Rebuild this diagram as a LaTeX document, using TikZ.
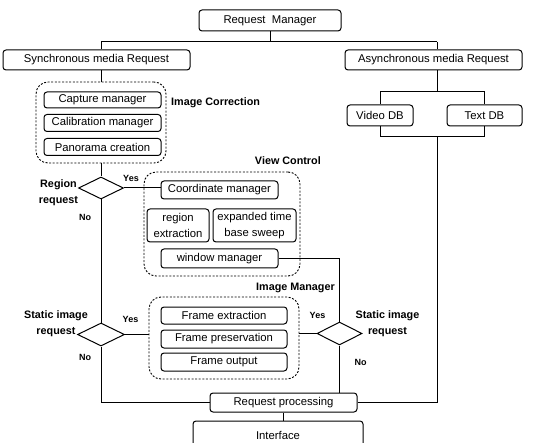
\documentclass[tikz,border=0pt]{standalone}
\usepackage{fontspec}
\setmainfont{Liberation Sans}
\usetikzlibrary{shapes.geometric}
\tikzset{
  box/.style={draw, line width=1pt, rounded corners=3pt, inner sep=0pt, align=center,
    font=\fontsize{11.3}{15.5}\selectfont},
  group/.style={draw, line width=0.9pt, dash pattern=on 2pt off 1.6pt, rounded corners=12pt, inner sep=0pt},
  dec/.style={draw, diamond, line width=1pt, inner sep=0pt},
  lbl/.style={font=\bfseries\fontsize{10.8}{13}\selectfont, inner sep=0pt},
  yn/.style={font=\bfseries\fontsize{9}{11}\selectfont, inner sep=0pt},
  conn/.style={line width=1pt},
}
\begin{document}
\begin{tikzpicture}[x=1pt,y=-1pt]
\useasboundingbox (0,0) rectangle (556,443);
% top
\node[box, minimum width=142, minimum height=21] (rm) at (270,20.5) {Request\ \ Manager};
\node[box, minimum width=187, minimum height=20] (sync) at (96.5,60) {Synchronous media Request};
\node[box, minimum width=177, minimum height=20] (async) at (433.5,60) {Asynchronous media Request};
\node[box, minimum width=66, minimum height=21] (video) at (380,115.5) {Video DB};
\node[box, minimum width=75, minimum height=21] (text) at (484.5,115.5) {Text DB};
\coordinate (barL) at (101,42);
\coordinate (barR) at (437,42);
\coordinate (forkT) at (437,92);
\coordinate (joinB) at (437,137);
% image correction
\node[group, minimum width=130, minimum height=81] (ic) at (101,122.5) {};
\node[box, minimum width=117, minimum height=16] (cap) at (102.5,100) {Capture manager};
\node[box, minimum width=117, minimum height=17] (cal) at (102.5,123) {Calibration manager};
\node[box, minimum width=117, minimum height=17] (pan) at (102.5,147) {Panorama creation};
\node[lbl, anchor=west] (icl) at (171,103) {Image Correction};
% region decision
\node[dec, minimum width=45, minimum height=22] (d1) at (101,188) {};
\node[lbl, align=center, font=\bfseries\fontsize{10.8}{16}\selectfont] (d1l) at (58.5,193) {Region\\request};
\node[yn] (d1y) at (131,178) {Yes};
\node[yn] (d1n) at (85,217) {No};
% view control
\node[group, minimum width=156, minimum height=104] (vc) at (222,224) {};
\node[lbl, anchor=east] (vcl) at (321,161) {View Control};
\node[box, minimum width=117, minimum height=18] (cm) at (219.5,190) {Coordinate manager};
\node[box, minimum width=62, minimum height=33] (re) at (178,225.5) {region\\extraction};
\node[box, minimum width=83, minimum height=33] (ex) at (254.5,225.5) {expanded time\\base sweep};
\node[box, minimum width=117, minimum height=19] (wm) at (219.5,258.5) {window manager};
% image manager
\node[group, minimum width=150, minimum height=82] (im) at (224,338) {};
\node[lbl, anchor=east] (iml) at (335,288) {Image Manager};
\node[box, minimum width=126, minimum height=17] (fe) at (224,315.5) {Frame extraction};
\node[box, minimum width=126, minimum height=18] (fp) at (224,339) {Frame preservation};
\node[box, minimum width=126, minimum height=18] (fo) at (224,362) {Frame output};
% static decisions
\node[dec, minimum width=47, minimum height=23] (d2) at (101,334.5) {};
\node[lbl, align=center, font=\bfseries\fontsize{10.8}{16}\selectfont] (d2l) at (56,324) {Static image\\request};
\node[yn] (d2y) at (130.5,319) {Yes};
\node[yn] (d2n) at (85,357) {No};
\node[dec, minimum width=45, minimum height=23] (d3) at (339.5,333.5) {};
\node[lbl, align=center, font=\bfseries\fontsize{10.8}{16}\selectfont] (d3l) at (387.5,324) {Static image\\request};
\node[yn] (d3y) at (317.5,315) {Yes};
\node[yn] (d3n) at (360.5,362) {No};
% bottom
\node[box, minimum width=147, minimum height=19] (rp) at (283.5,402.5) {Request processing};
\node[box, minimum width=170, minimum height=30, text depth=2pt] (itf) at (278,436) {Interface};
% connectors
\draw[conn] (rm.south) -- (rm.south |- barL);
\draw[conn] (barL) -- (barR);
\draw[conn] (barL) -- (barL |- sync.north);
\draw[conn] (barR) -- (barR |- async.north);
\draw[conn] (barR |- async.south) -- (forkT);
\draw[conn] (video.north |- forkT) -- (text.north |- forkT);
\draw[conn] (video.north |- forkT) -- (video.north);
\draw[conn] (text.north |- forkT) -- (text.north);
\draw[conn] (video.south) -- (video.south |- joinB) -- (text.south |- joinB) -- (text.south);
\draw[conn] (joinB) -- (joinB |- rp.east) -- (rp.east);
\draw[conn] (barL |- sync.south) -- (barL |- ic.north);
\draw[conn] (ic.south) -- (d1.north);
\draw[conn] (d1.east) -- (d1.east -| cm.west);
\draw[conn] (d1.south) -- (d2.north);
\draw[conn] (d2.east) -- (d2.east -| im.west);
\draw[conn] (d3.west -| im.east) -- (d3.west);
\draw[conn] (d2.south) -- (d2.south |- rp.west) -- (rp.west);
\draw[conn] (d3.south) -- (d3.south |- rp.north);
\draw[conn] (wm.east) -| (d3.north);
\draw[conn] (rp.south) -- (rp.south |- itf.north);
\end{tikzpicture}
\end{document}
